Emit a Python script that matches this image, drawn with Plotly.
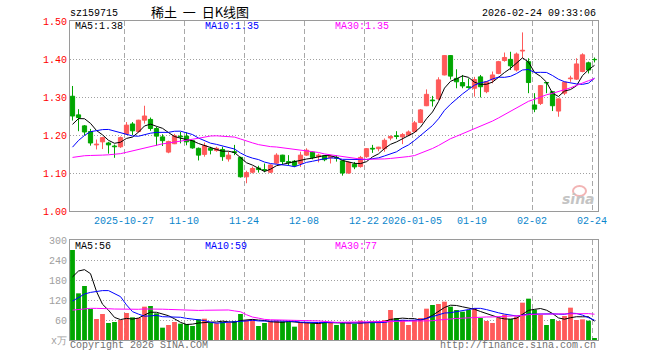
import pandas as pd
import plotly.graph_objects as go

# ---------------- data ----------------
# 88 trading days, 2025-10-14 ... 2026-02-24, index 0..87
open_ = [1.302, 1.253, 1.224, 1.209, 1.174, 1.182, 1.179, 1.171, 1.169, 1.203,
         1.229, 1.209, 1.239, 1.241, 1.217, 1.195, 1.155, 1.177, 1.197, 1.197,
         1.185, 1.165, 1.149, 1.165, 1.159, 1.162, 1.137, 1.156, 1.141, 1.090,
         1.102, 1.113, 1.109, 1.102, 1.126, 1.147, 1.130, 1.131, 1.125, 1.147,
         1.155, 1.143, 1.145, 1.140, 1.141, 1.132, 1.100, 1.123, 1.117, 1.143,
         1.165, 1.164, 1.164, 1.192, 1.198, 1.195, 1.200, 1.209, 1.233, 1.277,
         1.292, 1.295, 1.358, 1.409, 1.349, 1.338, 1.327, 1.323, 1.353, 1.314,
         1.345, 1.362, 1.396, 1.399, 1.371, 1.421, 1.393, 1.279, 1.283, 1.338,
         1.314, 1.263, 1.310, 1.348, 1.347, 1.367, 1.390, 1.399]
high = [1.329, 1.268, 1.226, 1.216, 1.188, 1.195, 1.182, 1.175, 1.196, 1.234,
        1.234, 1.240, 1.277, 1.246, 1.222, 1.202, 1.185, 1.203, 1.208, 1.207,
        1.187, 1.167, 1.180, 1.169, 1.169, 1.169, 1.156, 1.174, 1.143, 1.106,
        1.117, 1.119, 1.125, 1.123, 1.152, 1.148, 1.147, 1.134, 1.156, 1.165,
        1.157, 1.151, 1.147, 1.147, 1.147, 1.132, 1.130, 1.129, 1.145, 1.165,
        1.174, 1.169, 1.191, 1.199, 1.210, 1.205, 1.212, 1.237, 1.268, 1.320,
        1.303, 1.352, 1.410, 1.410, 1.373, 1.358, 1.349, 1.353, 1.358, 1.341,
        1.367, 1.395, 1.417, 1.419, 1.417, 1.470, 1.402, 1.310, 1.331, 1.339,
        1.316, 1.296, 1.340, 1.356, 1.402, 1.415, 1.393, 1.404]
low = [1.238, 1.210, 1.199, 1.172, 1.162, 1.163, 1.151, 1.140, 1.166, 1.200,
       1.200, 1.206, 1.230, 1.211, 1.172, 1.171, 1.152, 1.176, 1.178, 1.173,
       1.164, 1.133, 1.143, 1.149, 1.156, 1.132, 1.130, 1.147, 1.088, 1.073,
       1.099, 1.101, 1.102, 1.100, 1.124, 1.121, 1.119, 1.116, 1.116, 1.145,
       1.136, 1.128, 1.131, 1.125, 1.130, 1.093, 1.098, 1.110, 1.114, 1.140,
       1.153, 1.157, 1.156, 1.186, 1.189, 1.176, 1.197, 1.206, 1.231, 1.276,
       1.275, 1.292, 1.357, 1.346, 1.323, 1.323, 1.322, 1.301, 1.299, 1.310,
       1.336, 1.360, 1.393, 1.371, 1.367, 1.402, 1.310, 1.260, 1.279, 1.310,
       1.263, 1.248, 1.305, 1.340, 1.345, 1.365, 1.362, 1.391]
close = [1.250, 1.246, 1.208, 1.179, 1.176, 1.193, 1.174, 1.169, 1.193, 1.226,
         1.211, 1.239, 1.250, 1.217, 1.197, 1.185, 1.183, 1.198, 1.195, 1.182,
         1.166, 1.147, 1.172, 1.160, 1.165, 1.143, 1.147, 1.154, 1.090, 1.101,
         1.112, 1.109, 1.107, 1.121, 1.147, 1.130, 1.127, 1.120, 1.147, 1.160,
         1.141, 1.147, 1.135, 1.144, 1.139, 1.100, 1.128, 1.116, 1.141, 1.164,
         1.163, 1.168, 1.186, 1.196, 1.196, 1.201, 1.208, 1.232, 1.266, 1.307,
         1.290, 1.345, 1.409, 1.355, 1.340, 1.329, 1.325, 1.346, 1.327, 1.340,
         1.358, 1.393, 1.404, 1.382, 1.413, 1.423, 1.338, 1.268, 1.330, 1.337,
         1.277, 1.295, 1.339, 1.350, 1.387, 1.411, 1.371, 1.398]
volume = [270, 140, 162, 93, 63, 78, 51, 54, 60, 81,
          68, 66, 100, 102, 80, 37, 45, 54, 49, 48,
          42, 62, 64, 52, 50, 55, 52, 57, 78, 60,
          62, 42, 51, 58, 58, 56, 55, 40, 53, 53,
          50, 51, 54, 52, 45, 52, 52, 48, 58, 52,
          55, 52, 60, 90, 66, 60, 45, 60, 66, 94,
          105, 108, 115, 100, 90, 85, 90, 96, 66, 57,
          51, 66, 76, 63, 70, 112, 124, 91, 75, 45,
          63, 57, 72, 97, 60, 62, 58, 5]

# 29 sessions before the first visible day (off-chart), estimated from where
# the moving-average lines start on the left edge
hist_close = [1.15, 1.17, 1.16, 1.18, 1.16, 1.15, 1.14,
              1.13, 1.12, 1.10, 1.11, 1.12, 1.10, 1.09, 1.11, 1.12, 1.11, 1.10, 1.12, 1.11,
              1.07, 1.075, 1.08, 1.15, 1.165, 1.17, 1.21, 1.24, 1.27]
hist_volume = [70, 85, 78, 66, 72, 90, 80, 75, 68, 82, 74, 70, 88, 79, 73, 65, 77, 84, 76, 68,
               42, 48, 45, 40, 47, 51, 142, 153, 330]

tick_idx = [9, 19, 29, 39, 49, 57, 67, 77, 87]
tick_labels = ["2025-10-27", "11-10", "11-24", "12-08", "12-22", "2026-01-05",
               "01-19", "02-02", "02-24"]
price_ticks = [1.00, 1.10, 1.20, 1.30, 1.40, 1.50]
vol_ticks = [0, 60, 120, 180, 240, 300]

code = "sz159715"
title = "稀土\u00a0 一\u00a0 日K线图"
stamp = "2026-02-24 09:33:06"

# ---------------- computations ----------------
n = len(close)
idx = list(range(n))
cs = pd.Series(hist_close + close)
vs = pd.Series(hist_volume + volume)
ma = {w: cs.rolling(w).mean().iloc[-n:].tolist() for w in (5, 10, 30)}
vma = {w: vs.rolling(w).mean().iloc[-n:].tolist() for w in (5, 10, 30)}

RED = "#ff5a5a"
GREEN = "#00a600"
up = [c >= o for o, c in zip(open_, close)]
MA_COL = {5: "#000000", 10: "#0000ff", 30: "#ff00ff"}
MONO = "Liberation Mono, DejaVu Sans Mono, monospace"

# pixel geometry
W, H = 660, 360
L, R, T, B = 70, 598, 21, 340
P_BOT = 211
V_TOP = 240


def px(x):
    return (x - L) / (R - L)


def py(y):
    return (B - y) / (B - T)


off = 2.5 / 6.0  # grid line sits at the left edge of a day's slot

fig = go.Figure()

for is_up, col in ((True, RED), (False, GREEN)):
    xs, ys = [], []
    bx, bb, bh = [], [], []
    for i in idx:
        if up[i] == is_up:
            xs += [i, i, None]
            ys += [low[i], high[i], None]
            bx.append(i)
            bb.append(min(open_[i], close[i]))
            bh.append(abs(close[i] - open_[i]))
    fig.add_trace(go.Scatter(x=xs, y=ys, mode="lines", line=dict(color=col, width=1),
                             xaxis="x", yaxis="y", hoverinfo="skip"))
    fig.add_trace(go.Bar(x=bx, y=bh, base=bb, width=0.7, xaxis="x", yaxis="y",
                         marker=dict(color=col, line=dict(color=col, width=1))))

for w in (5, 10, 30):
    fig.add_trace(go.Scatter(x=idx, y=ma[w], mode="lines", xaxis="x", yaxis="y",
                             line=dict(color=MA_COL[w], width=1)))

fig.add_trace(go.Bar(x=idx, y=volume, width=0.8, xaxis="x2", yaxis="y2",
                     marker=dict(color=[RED if u else GREEN for u in up], line=dict(width=0))))
for w in (5, 10, 30):
    fig.add_trace(go.Scatter(x=idx, y=vma[w], mode="lines", xaxis="x2", yaxis="y2",
                             line=dict(color=MA_COL[w], width=1)))

grid_x = dict(showgrid=True, gridcolor="#a8a8a8", gridwidth=1, griddash="5px,3px",
              showline=True, mirror=True, linecolor="#9a9a9a", linewidth=1,
              zeroline=False, ticks="", range=[-off, n - off],
              tickvals=[t - off for t in tick_idx], ticktext=tick_labels)

fig.update_layout(
    width=W, height=H,
    margin=dict(l=L, r=W - R, t=T, b=H - B),
    paper_bgcolor="white", plot_bgcolor="white",
    showlegend=False, barmode="overlay",
    xaxis=dict(grid_x, domain=[0, 1], anchor="y",
               tickfont=dict(family=MONO, size=10, color="#0a86cc")),
    xaxis2=dict(grid_x, domain=[0, 1], anchor="y2", matches="x", showticklabels=False),
    yaxis=dict(domain=[py(P_BOT), 1], range=[1.0, 1.5], tickvals=price_ticks,
               ticktext=[f"{v:.2f}" for v in price_ticks],
               tickfont=dict(family=MONO, size=10, color="#ff0000"),
               showgrid=True, gridcolor="#a0a0a0", griddash="1px,2px",
               showline=True, mirror=True, linecolor="#9a9a9a", zeroline=False, ticks=""),
    yaxis2=dict(domain=[0, py(V_TOP)], range=[0, 300], tickvals=vol_ticks,
                ticktext=["x万"] + [str(v) for v in vol_ticks[1:]],
                tickfont=dict(family=MONO, size=10, color="#a0a0a0"),
                showgrid=True, gridcolor="#a0a0a0", griddash="1px,2px",
                showline=True, mirror=True, linecolor="#9a9a9a", zeroline=False, ticks=""),
)

ann = []


def text(x, y, s, color="#000000", anchor="left", size=10, family=MONO):
    ann.append(dict(x=px(x), y=py(y), xref="paper", yref="paper", text=s, showarrow=False,
                    xanchor=anchor, yanchor="middle", borderpad=0,
                    font=dict(family=family, size=size, color=color)))


text(69, 13.5, code)
text(150, 12, title, size=13, family="Noto Sans CJK SC")
text(597, 13.5, stamp, anchor="right")
text(74, 26.5, f"MA5:{ma[5][-1]:.2f}", MA_COL[5])
text(204, 26.5, f"MA10:{ma[10][-1]:.2f}", MA_COL[10])
text(334, 26.5, f"MA30:{ma[30][-1]:.2f}", MA_COL[30])
text(74, 246, f"MA5:{vma[5][-1]:.0f}", MA_COL[5])
text(204, 246, f"MA10:{vma[10][-1]:.0f}", MA_COL[10])
text(334, 246, f"MA30:{vma[30][-1]:.0f}", MA_COL[30])
text(69, 345.5, "Copyright 2026 SINA.COM", "#707070")
text(597, 345.5, "http://finance.sina.com.cn", "#707070", anchor="right")
ann.append(dict(x=px(597), y=py(199), xref="paper", yref="paper", text="<b><i>sina</i></b>",
                showarrow=False, xanchor="right", yanchor="middle",
                font=dict(family="DejaVu Sans", size=14, color="#c4c4c4")))
fig.update_layout(annotations=ann)
fig.add_shape(type="circle", xref="paper", yref="paper",
              x0=px(573), x1=px(586), y0=py(196), y1=py(186),
              line=dict(color="#f2b4b4", width=2), fillcolor="rgba(0,0,0,0)")

fig.write_html("out.html", config={"displayModeBar": False},
               post_script="document.body.style.margin='0px';")
